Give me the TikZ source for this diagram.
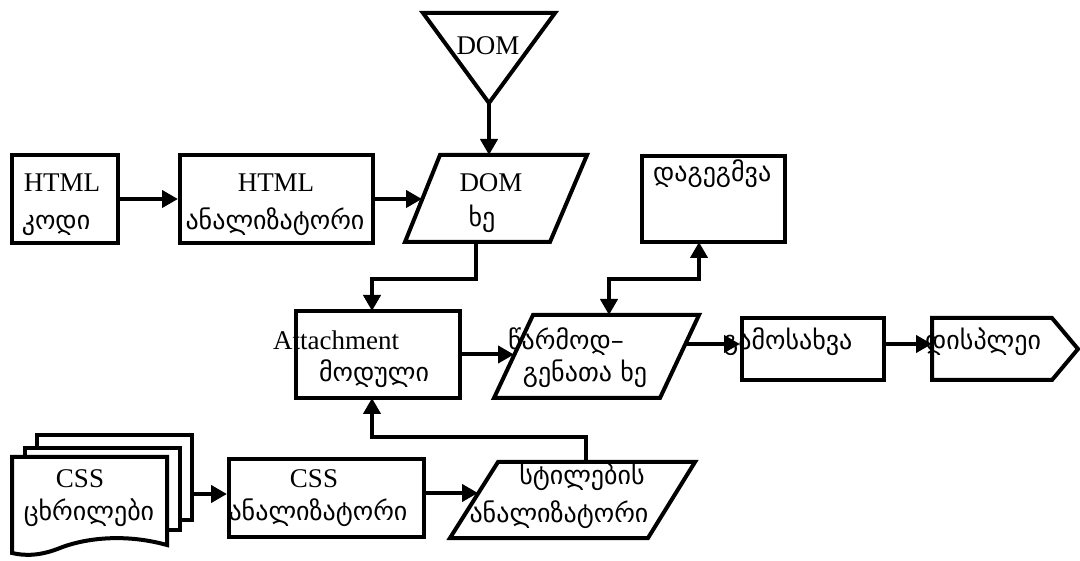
\documentclass[tikz,border=0pt]{standalone}
\usepackage{fontspec}
\setmainfont{Liberation Serif}
\newfontfamily\geo{DejaVu Sans}
\usetikzlibrary{arrows.meta}
\begin{document}
\begin{tikzpicture}[x=1pt,y=-1pt,
  outline/.style={line width=4pt, line join=miter},
  box/.style={draw, outline, rectangle, inner sep=0pt},
  tip/.tip={Triangle[length=16pt,width=17pt]},
  conn/.style={line width=4pt, -tip},
  conn2/.style={line width=4pt, tip-tip},
  lat/.style={font=\fontsize{27}{31}\selectfont, inner sep=0pt, anchor=base},
  geo/.style={font=\geo\fontsize{26}{30}\selectfont, inner sep=0pt, anchor=base}]
\useasboundingbox[fill=white] (0,0) rectangle (1080,561);

% rectangular process boxes
\node[box, minimum width=106pt, minimum height=88pt] (htmlcode) at (65,199) {};
\node[box, minimum width=193pt, minimum height=88pt] (htmlan) at (276.5,199) {};
\node[box, minimum width=143pt, minimum height=86pt] (layout) at (713.5,199) {};
\node[box, minimum width=164pt, minimum height=87pt] (attach) at (378,354.5) {};
\node[box, minimum width=142pt, minimum height=62pt] (render) at (813,349) {};
\node[box, minimum width=195pt, minimum height=78pt] (cssan) at (326.5,498) {};

% DOM source (inverted triangle)
\draw[outline] (423,13) -- (555,13) -- (489,103) -- cycle;
\coordinate (domApex) at (489,103);

% DOM tree (parallelogram)
\draw[outline] (440,155) -- (587,155) -- (550,242) -- (405,242) -- cycle;
\coordinate (domTop) at (489,155);
\coordinate (domL) at (422,199);
\coordinate (domBot) at (476,242);

% render tree (parallelogram)
\draw[outline] (533,315) -- (699,315) -- (660,398) -- (494,398) -- cycle;
\coordinate (reprT) at (609,315);
\coordinate (reprL) at (514,354.5);
\coordinate (reprR) at (685,344);

% style sheets analyser (parallelogram)
\draw[outline] (498,462) -- (695,462) -- (648,538) -- (450,538) -- cycle;
\coordinate (styleT) at (586,462);
\coordinate (styleL) at (478,493);

% display (pointed box)
\draw[outline] (932,318) -- (1052,318) -- (1078,349) -- (1052,380) -- (932,380) -- cycle;
\coordinate (dispL) at (932,344);

% stack of CSS documents
\draw[outline] (37,448) -- (37,435) -- (192,435) -- (192,520) -- (180,520);
\draw[outline] (25,457) -- (25,448) -- (180,448) -- (180,530) -- (167,530);
\draw[outline] (12,457) -- (167,457) -- (167,545)
  .. controls (120,532) and (80,540) .. (60,548)
  .. controls (40,556) and (25,556) .. (12,553) -- cycle;
\coordinate (docsR) at (192,494);

% helper points for connector ends
\coordinate (attTop) at (372,311);
\coordinate (attBot) at (372,398);
\coordinate (layB) at (699,242);

% connectors
\draw[conn] (htmlcode.east) -- (htmlan.west);
\draw[conn] (htmlan.east) -- (domL);
\draw[conn] (domApex) -- (domTop);
\draw[conn] (domBot) -- ++(0,37) -| (attTop);
\draw[conn] (attach.east) -- (reprL);
\draw[conn2] (reprT) -- ++(0,-36) -| (layB);
\draw[conn] (reprR) -- (reprR -| render.west);
\draw[conn] (reprR -| render.east) -- (dispL);
\draw[conn] (docsR) -- (docsR -| cssan.west);
\draw[conn] (styleL -| cssan.east) -- (styleL);
\draw[conn] (styleT) -- ++(0,-25) -| (attBot);

% labels
\node[lat] (t1) at (62,192) {HTML};
\node[geo] (t2) at (56,230) {კოდი};
\node[lat] (t3) at (276,192) {HTML};
\node[geo] (t4) at (275,230) {ანალიზატორი};
\node[lat] (t5) at (488,55) {DOM};
\node[lat] (t6) at (491,192) {DOM};
\node[geo] (t7) at (482,227) {ხე};
\node[geo, anchor=base west] (t8) at (653,182) {დაგეგმვა};
\node[lat, anchor=base west] (t9) at (273,350) {Attachment};
\node[geo] (t10) at (374,382) {მოდული};
\node[geo, anchor=base west] (t11) at (508,350) {წარმოდ–};
\node[geo] (t12) at (585,382) {გენათა ხე};
\node[geo, anchor=base west] (t13) at (723,350) {გამოსახვა};
\node[geo, anchor=base west] (t14) at (925,350) {დისპლეი};
\node[lat] (t15) at (80,487) {CSS};
\node[geo] (t16) at (89,520) {ცხრილები};
\node[lat] (t17) at (314,487) {CSS};
\node[geo] (t18) at (318,520) {ანალიზატორი};
\node[geo] (t19) at (582,485) {სტილების};
\node[geo] (t20) at (559,522) {ანალიზატორი};
\end{tikzpicture}
\end{document}
